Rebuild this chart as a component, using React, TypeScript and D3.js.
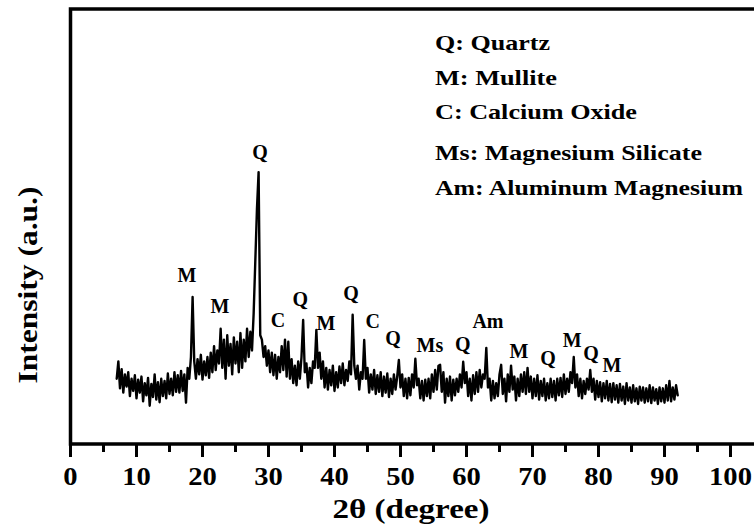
import React from "react";
import * as d3 from "d3";

// XRD scan: 2θ from 7° to 92° in 0.25° steps, intensity in arbitrary units
const TWO_THETA_START = 7;
const TWO_THETA_STEP = 0.25;
const intensity: number[] = [
  150, 190, 128, 172, // 7
  118, 160, 132, 165, // 8
  110, 150, 122, 158, // 9
  105, 148, 118, 155, // 10
  98, 140, 112, 152, // 11
  88, 138, 108, 160, // 12
  102, 142, 96, 150, // 13
  110, 145, 105, 162, // 14
  115, 150, 112, 165, // 15
  120, 158, 118, 168, // 16
  122, 160, 95, 175, // 17
  150, 200, 338, 190, // 18
  150, 195, 160, 205, // 19
  148, 190, 158, 200, // 20
  152, 210, 165, 225, // 21
  170, 215, 185, 265, // 22
  175, 240, 150, 250, // 23
  180, 230, 160, 245, // 24
  185, 235, 165, 255, // 25
  175, 240, 190, 265, // 26
  200, 258, 215, 300, // 27
  420, 540, 625, 250, // 28
  240, 200, 225, 180, // 29
  215, 165, 210, 158, // 30
  205, 150, 200, 165, // 31
  225, 170, 240, 155, // 32
  235, 150, 195, 140, // 33
  180, 135, 190, 150, // 34
  200, 285, 165, 185, // 35
  130, 175, 140, 190, // 36
  175, 262, 175, 210, // 37
  150, 190, 130, 175, // 38
  125, 170, 135, 180, // 39
  122, 165, 130, 178, // 40
  140, 185, 135, 170, // 41
  145, 190, 160, 297, // 42
  180, 150, 180, 125, // 43
  165, 150, 239, 150, // 44
  175, 118, 160, 125, // 45
  170, 115, 158, 120, // 46
  165, 110, 155, 118, // 47
  162, 108, 150, 115, // 48
  160, 125, 155, 193, // 49
  130, 160, 110, 150, // 50
  105, 152, 112, 160, // 51
  130, 196, 135, 150, // 52
  105, 145, 100, 148, // 53
  110, 150, 105, 160, // 54
  120, 170, 125, 180, // 55
  182, 120, 165, 95, // 56
  150, 110, 155, 100, // 57
  148, 112, 150, 120, // 58
  160, 130, 189, 140, // 59
  165, 110, 150, 100, // 60
  158, 115, 165, 120, // 61
  170, 130, 160, 150, // 62
  221, 130, 150, 100, // 63
  145, 105, 140, 110, // 64
  160, 182, 115, 150, // 65
  98, 160, 120, 180, // 66
  125, 155, 100, 150, // 67
  110, 160, 120, 165, // 68
  115, 175, 120, 155, // 69
  105, 150, 110, 158, // 70
  102, 145, 110, 150, // 71
  100, 140, 105, 150, // 72
  108, 145, 100, 150, // 73
  112, 152, 108, 160, // 74
  115, 150, 120, 165, // 75
  140, 200, 130, 160, // 76
  110, 150, 105, 145, // 77
  115, 150, 125, 170, // 78
  120, 150, 102, 145, // 79
  108, 142, 98, 140, // 80
  105, 145, 100, 138, // 81
  96, 140, 102, 135, // 82
  95, 138, 100, 132, // 83
  92, 140, 100, 130, // 84
  95, 135, 98, 128, // 85
  92, 132, 100, 130, // 86
  95, 128, 98, 135, // 87
  94, 130, 100, 126, // 88
  92, 130, 98, 128, // 89
  95, 135, 100, 145, // 90
  98, 130, 102, 135, // 91
  112, // 92
];

// Phase markers: symbol, 2θ of label centre, intensity level of label baseline
const peakSymbols = ["M", "M", "Q", "C", "Q", "M", "Q", "C", "Q", "Ms", "Q", "Am", "M", "Q", "M", "Q", "M"];
const peakAngles = [17.65, 22.65, 28.7, 31.45, 34.8, 38.7, 42.5, 45.8, 48.85, 54.45, 59.45, 63.25, 67.95, 72.35, 76.0, 78.85, 82.05];
const peakLevels = [372, 301, 655, 269, 317, 262, 331, 267, 228, 211, 214, 267, 198, 182, 223, 193, 166];

const legendLines = ["Q: Quartz", "M: Mullite", "C: Calcium Oxide", "Ms: Magnesium Silicate", "Am: Aluminum Magnesium"];

const majorTicks = [0, 10, 20, 30, 40, 50, 60, 70, 80, 90, 100];
const minorTicks = [5, 15, 25, 35, 45, 55, 65, 75, 85, 95];
const tickLabels = ["0", "10", "20", "30", "40", "50", "60", "70", "80", "90", "100"];

const textStyle: React.CSSProperties = {
  fontFamily: "Liberation Serif",
  fontWeight: 700,
};

export default function App() {
  const width = 754;
  const height = 529;
  const left = 70.5;
  const top = 9;
  const bottom = 444;

  const x = d3.scaleLinear().domain([0, 100]).range([left, 730.5]);
  const y = d3.scaleLinear().domain([0, 1000]).range([bottom, top]);

  const points: [number, number][] = intensity.map((v, i) => [TWO_THETA_START + i * TWO_THETA_STEP, v]);
  const path = d3
    .line<[number, number]>()
    .x((d) => x(d[0]))
    .y((d) => y(d[1]))(points) as string;

  const legendX = 435;
  const legendY = [50, 85, 119, 160, 195];
  const legendWidths = [115, 122, 202, 267, 308];

  return (
    <svg
      width={width}
      height={height}
      viewBox={`0 0 ${width} ${height}`}
      style={{ position: "absolute", left: 0, top: 0, background: "#fff" }}
    >
      <rect x={0} y={0} width={width} height={height} fill="#fff" />

      {/* plot frame; the right side runs past the visible area */}
      <rect x={left} y={top} width={760} height={bottom - top} fill="none" stroke="#000" strokeWidth={3.5} />

      {/* diffraction trace */}
      <path d={path} fill="none" stroke="#000" strokeWidth={2.4} strokeLinejoin="round" strokeLinecap="round" />

      {/* phase markers */}
      {peakSymbols.map((s, i) => (
        <text
          key={"p" + i}
          x={x(peakAngles[i])}
          y={y(peakLevels[i])}
          textAnchor="middle"
          style={{ ...textStyle, fontSize: 20 }}
          fill="#000"
        >
          {s}
        </text>
      ))}

      {/* legend */}
      {legendLines.map((t, i) => (
        <text
          key={"l" + i}
          x={legendX}
          y={legendY[i]}
          style={{ ...textStyle, fontSize: 22 }}
          textLength={legendWidths[i]}
          lengthAdjust="spacingAndGlyphs"
          fill="#000"
        >
          {t}
        </text>
      ))}

      {/* x axis ticks */}
      {majorTicks.map((t) => (
        <line key={"M" + t} x1={x(t)} x2={x(t)} y1={bottom} y2={bottom + 13} stroke="#000" strokeWidth={3} />
      ))}
      {minorTicks.map((t) => (
        <line key={"m" + t} x1={x(t)} x2={x(t)} y1={bottom} y2={bottom + 8} stroke="#000" strokeWidth={3} />
      ))}
      {majorTicks.map((t, i) => (
        <text
          key={"t" + t}
          x={x(t)}
          y={485}
          textAnchor="middle"
          style={{ ...textStyle, fontSize: 25 }}
          textLength={tickLabels[i].length * 14.3}
          lengthAdjust="spacingAndGlyphs"
          fill="#000"
        >
          {tickLabels[i]}
        </text>
      ))}

      {/* axis titles */}
      <text
        x={411}
        y={518}
        textAnchor="middle"
        style={{ ...textStyle, fontSize: 27 }}
        textLength={157}
        lengthAdjust="spacingAndGlyphs"
        fill="#000"
      >
        2θ (degree)
      </text>
      <text
        transform="translate(37,285) rotate(-90)"
        textAnchor="middle"
        style={{ ...textStyle, fontSize: 28 }}
        textLength={197}
        lengthAdjust="spacingAndGlyphs"
        fill="#000"
      >
        Intensity (a.u.)
      </text>
    </svg>
  );
}
